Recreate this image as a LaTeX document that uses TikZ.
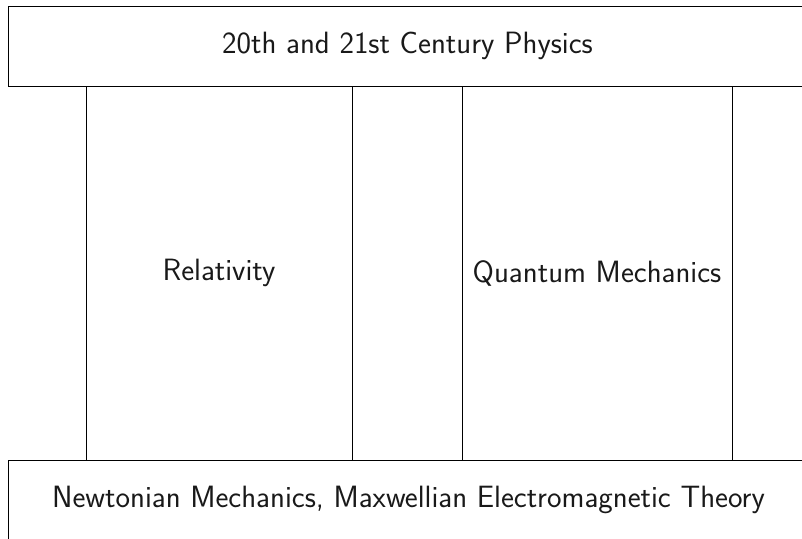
\documentclass[tikz,border=0pt]{standalone}
\begin{document}
\begin{tikzpicture}[x=1pt,y=-1pt,
  blk/.style={draw=black, line width=0.9pt, inner sep=0pt, outer sep=0pt, rectangle,
    font=\sffamily\fontsize{30.8}{36}\selectfont, text=black!90}]
\useasboundingbox (0,0) rectangle (802,538);
\clip (0,0) rectangle (802,538);
\node[blk, minimum width=798pt, minimum height=80pt] (top) at (407.5,46) {20th and 21st Century Physics};
\node[blk, minimum width=266pt, minimum height=374pt] (rel) at (219,273) {Relativity};
\node[blk, minimum width=270pt, minimum height=374pt] (qm) at (597,273) {Quantum Mechanics};
\node[blk, minimum width=800pt, minimum height=80pt] (bot) at (408.5,500) {Newtonian Mechanics, Maxwellian Electromagnetic Theory};
\end{tikzpicture}
\end{document}
